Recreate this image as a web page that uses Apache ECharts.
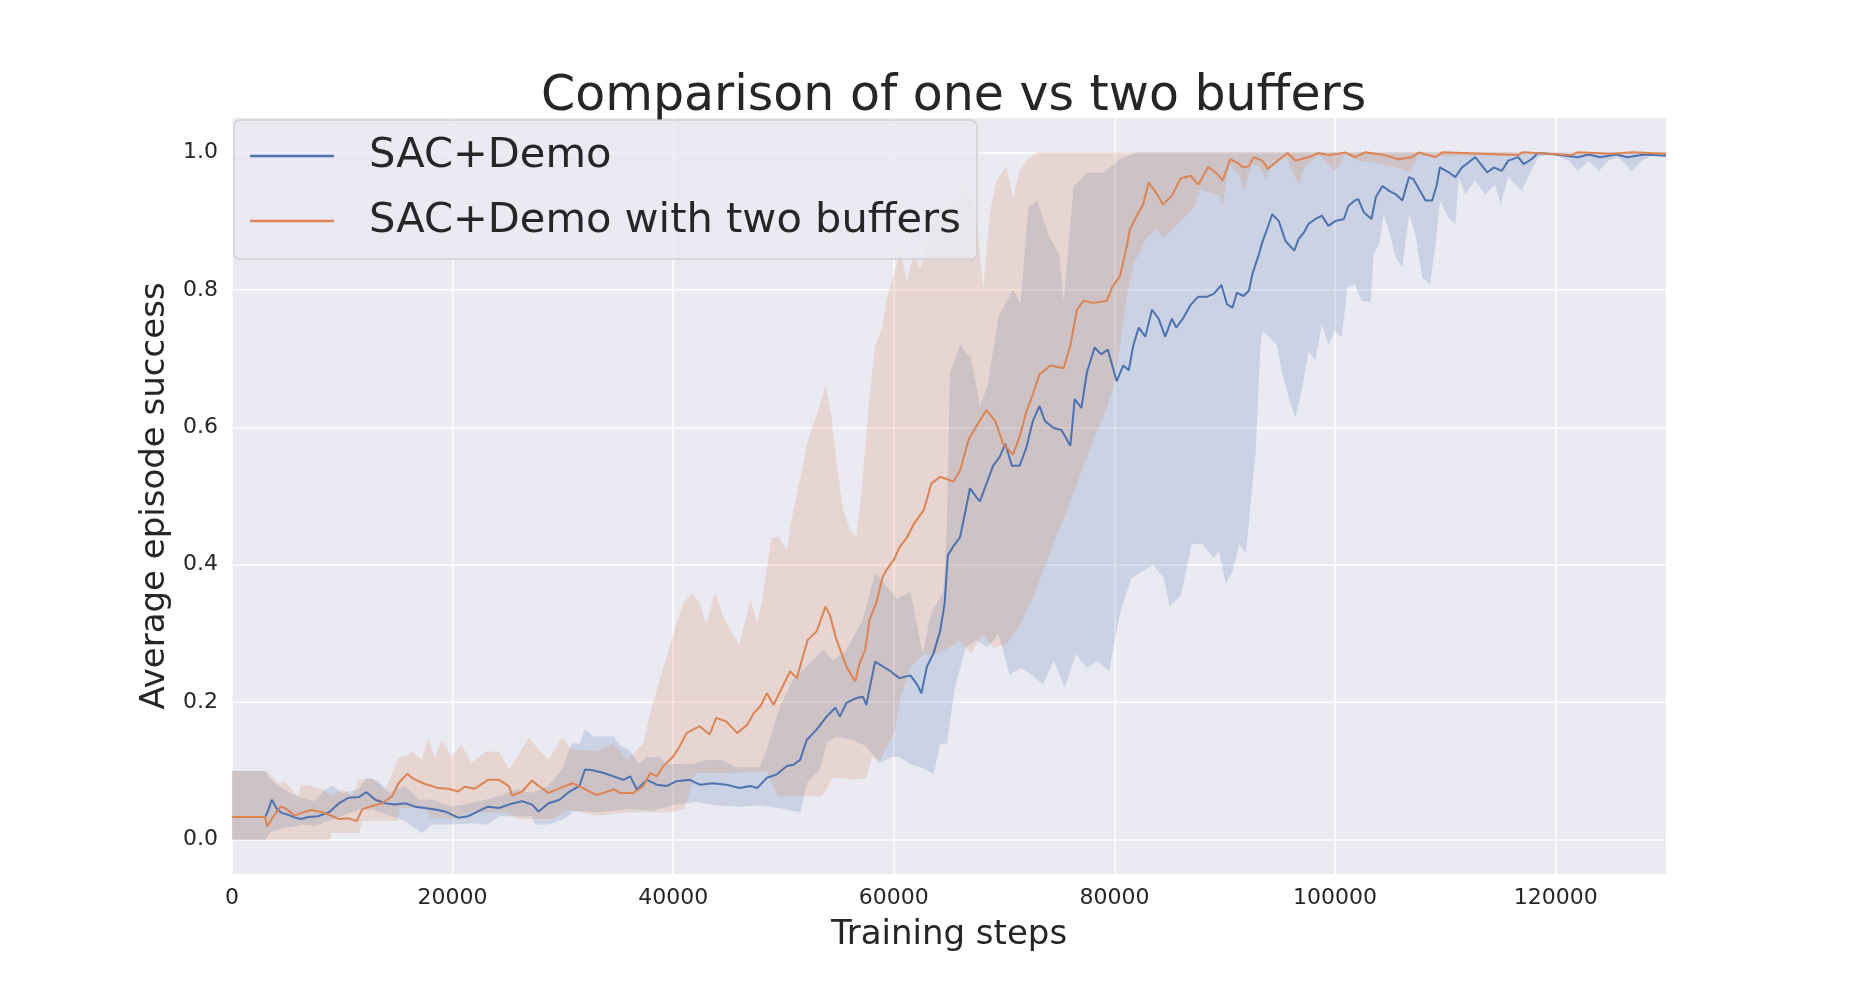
<!DOCTYPE html>
<html>
<head>
<meta charset="utf-8">
<script src="https://cdn.jsdelivr.net/npm/echarts@6/dist/echarts.min.js"></script>
<style>html,body{margin:0;padding:0;background:#fff}#c{width:1853px;height:983px}</style>
</head>
<body>
<div id="c"></div>
<script>
const TITLE = 'Comparison of one vs two buffers';
const X_NAME = 'Training steps';
const Y_NAME = 'Average episode success';
const SERIES_NAMES = ['SAC+Demo', 'SAC+Demo with two buffers'];
const Y_TICKS = [0, 0.2, 0.4, 0.6, 0.8, 1.0];

// [step, value] pairs
const demoMean = [[0,0.033],[3000,0.033],[3200,0.039],[3600,0.058],[4100,0.044],[4500,0.039],[5100,0.036],[5700,0.032],[6300,0.030],[6900,0.033],[7800,0.034],[8800,0.040],[9700,0.053],[10600,0.061],[11500,0.062],[12200,0.069],[13000,0.058],[13900,0.053],[14800,0.051],[15700,0.053],[16600,0.048],[17500,0.046],[18400,0.044],[19300,0.041],[20500,0.032],[21400,0.034],[22300,0.041],[23200,0.048],[24200,0.046],[25100,0.051],[26300,0.056],[27200,0.051],[27800,0.041],[28700,0.053],[29700,0.058],[30600,0.070],[31500,0.078],[32000,0.102],[32700,0.101],[33700,0.097],[34600,0.092],[35500,0.087],[36100,0.092],[36700,0.073],[37600,0.087],[38500,0.080],[39400,0.078],[40300,0.085],[41500,0.087],[42400,0.080],[43600,0.082],[44800,0.080],[46000,0.075],[47000,0.078],[47600,0.075],[48500,0.090],[49400,0.095],[50300,0.107],[50900,0.109],[51500,0.116],[52100,0.145],[53000,0.160],[53900,0.179],[54700,0.192],[55100,0.179],[55700,0.199],[56600,0.206],[57200,0.208],[57500,0.196],[58300,0.259],[59000,0.252],[59700,0.245],[60500,0.235],[61500,0.239],[62100,0.226],[62500,0.213],[63000,0.252],[63600,0.271],[64200,0.304],[64600,0.343],[64900,0.414],[65400,0.427],[66000,0.440],[66500,0.479],[66900,0.511],[67500,0.498],[67800,0.492],[68400,0.518],[69000,0.544],[69600,0.557],[70100,0.576],[70700,0.544],[71400,0.544],[72000,0.570],[72600,0.609],[73200,0.631],[73700,0.609],[74500,0.599],[75200,0.596],[76000,0.573],[76400,0.641],[77000,0.628],[77500,0.680],[78200,0.716],[78800,0.706],[79400,0.713],[80200,0.667],[80800,0.690],[81300,0.683],[81700,0.719],[82200,0.745],[82800,0.732],[83400,0.771],[84000,0.758],[84600,0.732],[85200,0.758],[85600,0.745],[86200,0.758],[86900,0.778],[87600,0.790],[88400,0.790],[89000,0.794],[89700,0.807],[90200,0.779],[90700,0.774],[91100,0.796],[91700,0.791],[92200,0.799],[92500,0.823],[93100,0.852],[93400,0.869],[93900,0.891],[94300,0.910],[94900,0.900],[95500,0.871],[96300,0.857],[96700,0.874],[97200,0.884],[97600,0.896],[98200,0.903],[98800,0.908],[99400,0.893],[100000,0.900],[100800,0.903],[101200,0.922],[101800,0.930],[102100,0.932],[102600,0.913],[103300,0.903],[103700,0.935],[104300,0.951],[104900,0.944],[105500,0.939],[106100,0.930],[106700,0.964],[107100,0.961],[107700,0.944],[108200,0.930],[108800,0.930],[109200,0.951],[109500,0.978],[110300,0.971],[110900,0.964],[111500,0.978],[112700,0.993],[113300,0.981],[113800,0.971],[114400,0.978],[115100,0.973],[115700,0.988],[116600,0.993],[117100,0.983],[117800,0.990],[118400,0.999],[120000,0.997],[122000,0.993],[123000,0.997],[124000,0.993],[125500,0.997],[126500,0.993],[128000,0.997],[130000,0.995]];

const twoMean = [[0,0.033],[3000,0.033],[3200,0.019],[3600,0.030],[4400,0.048],[4800,0.046],[5700,0.035],[6300,0.039],[7200,0.043],[8200,0.040],[9100,0.034],[9700,0.030],[10600,0.031],[11300,0.027],[11800,0.044],[12700,0.049],[13600,0.053],[14500,0.063],[15100,0.082],[15900,0.096],[16300,0.090],[16900,0.085],[17500,0.081],[18100,0.078],[18700,0.075],[19600,0.074],[20500,0.070],[21100,0.077],[22000,0.074],[23200,0.087],[24200,0.087],[25100,0.078],[25400,0.064],[26300,0.070],[27200,0.086],[27800,0.078],[28700,0.068],[29700,0.075],[30900,0.082],[31800,0.075],[33000,0.065],[33700,0.068],[34600,0.073],[35200,0.068],[36400,0.068],[37300,0.078],[37900,0.097],[38500,0.092],[39100,0.107],[40000,0.121],[40600,0.136],[41200,0.155],[41800,0.160],[42400,0.165],[43300,0.153],[43900,0.177],[44800,0.172],[45800,0.155],[46700,0.167],[47300,0.184],[47900,0.194],[48500,0.213],[49100,0.196],[49700,0.216],[50600,0.245],[51200,0.235],[51800,0.269],[52200,0.291],[53000,0.303],[53800,0.339],[54200,0.327],[54800,0.291],[55700,0.252],[56500,0.230],[56900,0.257],[57400,0.276],[57800,0.320],[58400,0.344],[59000,0.383],[59400,0.394],[60000,0.407],[60500,0.425],[61200,0.440],[61800,0.459],[62700,0.479],[63400,0.518],[64200,0.528],[65400,0.521],[66000,0.537],[66800,0.583],[67500,0.602],[68400,0.625],[69200,0.609],[69900,0.576],[70800,0.560],[71400,0.586],[72000,0.622],[72600,0.648],[73200,0.677],[74200,0.690],[75400,0.686],[76000,0.719],[76600,0.771],[77200,0.784],[78100,0.781],[79300,0.784],[79800,0.804],[80500,0.820],[81100,0.862],[81400,0.888],[82000,0.907],[82600,0.924],[83100,0.956],[83700,0.943],[84400,0.924],[85200,0.937],[86000,0.962],[86900,0.966],[87600,0.953],[88500,0.979],[89300,0.969],[89800,0.959],[90500,0.990],[91100,0.985],[91700,0.978],[92200,0.980],[92600,0.993],[93400,0.988],[93900,0.976],[94800,0.988],[95700,0.999],[96400,0.988],[97600,0.993],[98500,0.999],[99400,0.996],[100300,0.998],[100900,1.0],[101800,0.993],[102700,1.0],[104500,0.996],[105700,0.990],[107000,0.993],[107600,1.0],[109100,0.993],[109700,1.0],[116600,0.996],[117000,1.0],[121400,0.996],[122000,1.0],[125000,0.998],[127000,1.0],[130000,0.998]];

const demoUpper = [[0,0.1],[3000,0.1],[3300,0.092],[4000,0.080],[5000,0.070],[6000,0.062],[7500,0.056],[8400,0.073],[9100,0.078],[10000,0.068],[11500,0.073],[12200,0.090],[13300,0.085],[14200,0.068],[15700,0.078],[16900,0.058],[18100,0.058],[19900,0.048],[21100,0.051],[23000,0.058],[24200,0.063],[25700,0.073],[27200,0.068],[28700,0.078],[29900,0.102],[30800,0.14],[31500,0.14],[32000,0.16],[32800,0.15],[34600,0.15],[35100,0.138],[36000,0.13],[36900,0.11],[37600,0.12],[38800,0.12],[39400,0.11],[41800,0.11],[43000,0.116],[44300,0.116],[45800,0.105],[47800,0.105],[48500,0.13],[49000,0.16],[49700,0.194],[50900,0.233],[52100,0.252],[53600,0.276],[54500,0.26],[55700,0.276],[57200,0.32],[58300,0.388],[59300,0.369],[60300,0.35],[61500,0.36],[62600,0.27],[63400,0.33],[64500,0.36],[64800,0.45],[65100,0.68],[66000,0.72],[67000,0.70],[67800,0.63],[68500,0.66],[69500,0.76],[70800,0.80],[71500,0.78],[72200,0.92],[73000,0.93],[74000,0.88],[75000,0.85],[75400,0.78],[76300,0.95],[77500,0.97],[79000,0.97],[80500,0.99],[82000,1.0],[130000,1.0]];

const demoLower = [[0,0.0],[3000,0.0],[3500,0.012],[5000,0.018],[6500,0.022],[7500,0.02],[9000,0.029],[11500,0.044],[12700,0.044],[14500,0.034],[15700,0.027],[17200,0.010],[18100,0.022],[20000,0.022],[21700,0.024],[23200,0.022],[24200,0.034],[27200,0.034],[27500,0.022],[28700,0.022],[30200,0.031],[31000,0.042],[33000,0.04],[34500,0.042],[36000,0.045],[38000,0.042],[40000,0.05],[42000,0.055],[44000,0.05],[46000,0.048],[48000,0.05],[50000,0.045],[51500,0.040],[52100,0.082],[53300,0.102],[53900,0.141],[54800,0.15],[56300,0.145],[57500,0.136],[58700,0.112],[59900,0.121],[60500,0.12],[61500,0.11],[62500,0.105],[63600,0.096],[64200,0.14],[64800,0.14],[65500,0.22],[66500,0.28],[67500,0.29],[68500,0.28],[69500,0.30],[70500,0.24],[71500,0.25],[72500,0.24],[73500,0.226],[74500,0.26],[75500,0.222],[76500,0.27],[77500,0.25],[78500,0.26],[79500,0.245],[80500,0.33],[81500,0.38],[82500,0.39],[83500,0.40],[84500,0.38],[85000,0.34],[86000,0.355],[87000,0.43],[88000,0.43],[89000,0.41],[89500,0.42],[90100,0.372],[90700,0.391],[91300,0.43],[91900,0.416],[92300,0.483],[92800,0.566],[93200,0.711],[93400,0.74],[94000,0.731],[94700,0.721],[95300,0.673],[95800,0.644],[96400,0.614],[97000,0.658],[97600,0.711],[98200,0.697],[98800,0.75],[99400,0.721],[100000,0.74],[100600,0.731],[101100,0.804],[101800,0.808],[102400,0.784],[103200,0.782],[103500,0.852],[104000,0.867],[104400,0.910],[104900,0.886],[105500,0.847],[106100,0.833],[106700,0.910],[107300,0.881],[107900,0.818],[108600,0.808],[109100,0.867],[109500,0.930],[110300,0.905],[110900,0.896],[111200,0.964],[111800,0.939],[112700,0.959],[113600,0.939],[114500,0.954],[115000,0.925],[115700,0.964],[116900,0.944],[117500,0.964],[118400,0.993],[119600,0.998],[121200,0.988],[122000,0.973],[123000,0.988],[123900,0.973],[124800,0.988],[125700,0.993],[126900,0.973],[127800,0.988],[128700,0.995],[130000,0.995]];

const twoUpper = [[0,0.1],[3000,0.1],[3500,0.095],[4200,0.082],[4800,0.084],[6000,0.063],[6300,0.08],[7200,0.078],[8200,0.073],[9000,0.063],[10000,0.073],[10900,0.063],[11500,0.087],[12700,0.089],[13900,0.073],[15100,0.119],[15700,0.121],[16300,0.128],[17200,0.116],[17800,0.148],[18400,0.119],[19000,0.145],[19900,0.121],[20800,0.138],[21700,0.112],[23000,0.128],[24200,0.128],[25100,0.102],[26000,0.124],[26900,0.148],[27800,0.131],[28700,0.116],[29900,0.148],[30800,0.13],[32000,0.13],[33000,0.128],[34600,0.14],[35800,0.116],[37300,0.14],[37900,0.184],[38800,0.233],[39700,0.281],[40300,0.315],[40900,0.344],[41700,0.359],[42400,0.344],[43000,0.313],[43800,0.359],[44500,0.325],[45500,0.296],[46000,0.284],[47000,0.349],[47600,0.315],[48000,0.344],[48900,0.439],[49500,0.441],[50300,0.422],[50900,0.48],[51500,0.524],[52300,0.587],[53000,0.616],[53800,0.659],[54300,0.62],[54800,0.548],[55400,0.48],[56000,0.451],[56600,0.44],[57200,0.528],[57800,0.645],[58300,0.718],[58900,0.742],[59400,0.79],[60000,0.823],[60600,0.855],[61200,0.81],[61800,0.855],[62400,0.83],[63300,0.888],[64200,0.92],[65100,0.92],[66000,0.933],[66600,0.946],[67500,0.907],[68100,0.80],[68700,0.91],[69300,0.959],[70200,0.979],[70800,0.933],[71400,0.972],[72000,0.988],[73000,1.0],[130000,1.0]];

const twoLower = [[0,0],[3000,0],[3500,0],[8900,0],[9000,0.010],[11500,0.010],[11800,0.027],[15000,0.027],[15200,0.046],[17500,0.046],[18000,0.032],[20000,0.03],[21500,0.04],[25000,0.04],[26000,0.03],[29000,0.03],[30500,0.044],[33000,0.035],[36000,0.04],[38000,0.04],[40000,0.04],[41000,0.045],[42000,0.097],[45000,0.097],[48500,0.10],[49500,0.063],[53500,0.063],[54500,0.09],[56500,0.088],[57500,0.09],[58000,0.12],[58700,0.115],[60000,0.154],[60600,0.206],[61500,0.25],[62700,0.27],[64000,0.27],[65000,0.28],[66000,0.29],[67000,0.27],[68000,0.30],[69000,0.28],[70200,0.284],[71400,0.31],[73000,0.368],[74500,0.433],[75700,0.479],[76900,0.531],[78100,0.583],[79300,0.628],[79900,0.66],[80500,0.72],[81100,0.79],[81700,0.836],[82900,0.875],[83800,0.888],[84400,0.875],[86000,0.90],[87200,0.92],[87800,0.946],[89000,0.94],[89500,0.939],[89800,0.922],[90400,0.983],[91300,0.968],[91700,0.944],[92500,0.983],[93100,0.980],[93700,0.961],[94300,0.987],[95500,0.995],[96700,0.954],[97300,0.980],[98500,0.997],[100000,0.973],[100900,0.997],[102100,0.988],[103500,0.985],[105000,0.98],[106800,0.972],[107500,0.995],[116000,0.995],[117000,1.0],[130000,1.0]];

const BLUE = '#4c72b0';
const ORANGE = '#dd8452';
const FONT = 'DejaVu Sans';
const TXT = '#262626';

function band(name, upper, lower, color) {
  return {
    name: name,
    type: 'custom',
    coordinateSystem: 'cartesian2d',
    data: [[0, 0]],
    z: 1,
    silent: true,
    renderItem: function (params, api) {
      const pts = [];
      for (const p of upper) pts.push(api.coord(p));
      for (let i = lower.length - 1; i >= 0; i--) pts.push(api.coord(lower[i]));
      return {
        type: 'polygon',
        shape: { points: pts },
        style: { fill: color, opacity: 0.2, stroke: color, lineWidth: 0.6, strokeOpacity: 0.2 }
      };
    }
  };
}

function line(name, data, color) {
  return {
    name: name,
    type: 'line',
    data: data,
    z: 3,
    symbol: 'none',
    showSymbol: false,
    lineStyle: { color: color, width: 2 },
    itemStyle: { color: color }
  };
}

const chart = echarts.init(document.getElementById('c'), null, { renderer: 'canvas' });
chart.setOption({
  animation: false,
  backgroundColor: '#ffffff',
  title: {
    text: TITLE,
    left: 541,
    top: 73,
    padding: 0,
    textStyle: { fontFamily: FONT, fontSize: 49, fontWeight: 'normal', color: TXT }
  },
  grid: {
    left: 232, right: 187, top: 118, bottom: 109,
    show: true, backgroundColor: '#eaeaf2', borderWidth: 0
  },
  legend: {
    data: SERIES_NAMES,
    orient: 'vertical',
    left: 234, top: 120,
    padding: [15, 16, 17, 16],
    itemGap: 23,
    itemWidth: 84,
    itemHeight: 2.5,
    icon: 'rect',
    backgroundColor: 'rgba(234,234,242,0.8)',
    borderColor: 'rgba(204,204,204,0.8)',
    borderWidth: 1.5,
    borderRadius: 6,
    z: 10,
    textStyle: { fontFamily: FONT, fontSize: 41.6, lineHeight: 42, color: TXT, padding: [0, 0, 0, 30] }
  },
  xAxis: {
    type: 'value',
    min: 0, max: 130000, interval: 20000,
    name: X_NAME,
    nameLocation: 'middle',
    nameGap: 44,
    nameTextStyle: { fontFamily: FONT, fontSize: 34, color: TXT },
    axisLine: { show: false },
    axisTick: { show: false },
    axisLabel: { fontFamily: FONT, fontSize: 22, color: TXT, margin: 13, showMaxLabel: false,
      formatter: function (v) { return String(v); } },
    splitLine: { show: true, showMaxLine: false, lineStyle: { color: '#ffffff', width: 1.6 } }
  },
  yAxis: {
    type: 'value',
    min: -0.05, max: 1.05,
    name: Y_NAME,
    nameLocation: 'middle',
    nameGap: 57,
    nameTextStyle: { fontFamily: FONT, fontSize: 34, color: TXT },
    axisLine: { show: false },
    axisTick: { show: false, customValues: Y_TICKS },
    axisLabel: { fontFamily: FONT, fontSize: 22, color: TXT, margin: 14, customValues: Y_TICKS,
      formatter: function (v) { return v.toFixed(1); } },
    splitLine: { show: true, lineStyle: { color: '#ffffff', width: 1.6 } }
  },
  series: [
    band('SAC+Demo band', demoUpper, demoLower, BLUE),
    band('SAC+Demo with two buffers band', twoUpper, twoLower, ORANGE),
    line(SERIES_NAMES[0], demoMean, BLUE),
    line(SERIES_NAMES[1], twoMean, ORANGE)
  ]
});
</script>
</body>
</html>
